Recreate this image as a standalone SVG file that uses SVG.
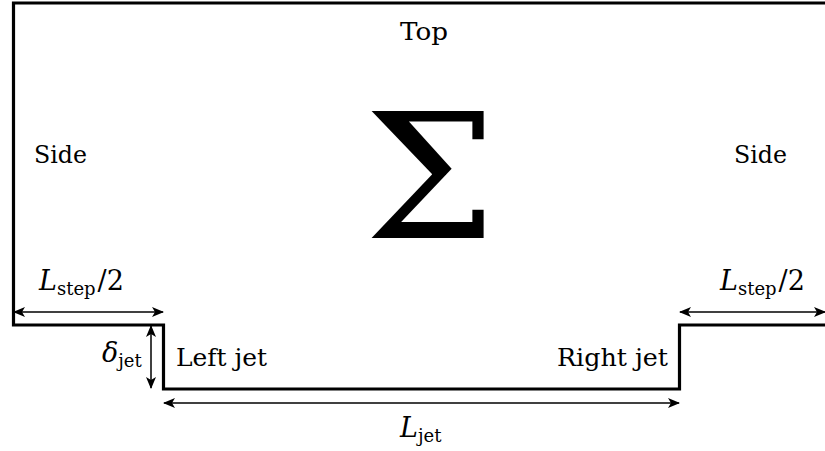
<svg xmlns="http://www.w3.org/2000/svg" width="825" height="451" viewBox="0 0 825 451">
<style>
text{font-family:'DejaVu Serif',serif;fill:#000}
.t{font-size:25px}
.mt{font-size:27px}
.m{font-style:italic}
.s{font-size:18px;font-style:normal}
.dim{stroke:#000;stroke-width:1.5;fill:none;marker-start:url(#ah);marker-end:url(#ah)}
</style>
<defs>
<marker id="ah" viewBox="0 0 12 10" refX="11" refY="5" markerWidth="12" markerHeight="10" markerUnits="userSpaceOnUse" orient="auto-start-reverse">
<path d="M0,0 L12,5 L0,10 L3,5 Z" fill="#000"/>
</marker>
</defs>
<rect width="825" height="451" fill="#fff"/>
<g id="domain">
<path d="M830,3 H13.5 V325 H163.5 V389 H679.5 V325 H830" fill="none" stroke="#000" stroke-width="3.2" stroke-linejoin="miter"/>
</g>
<g id="connectors">
<line class="dim" x1="14" y1="312" x2="163" y2="312"/>
<line class="dim" x1="680" y1="312" x2="825" y2="312"/>
<line class="dim" x1="151" y1="326" x2="151" y2="388"/>
<line class="dim" x1="164" y1="403" x2="679" y2="403"/>
</g>
<g id="top"><text class="t" x="400" y="40" textLength="48" lengthAdjust="spacingAndGlyphs">Top</text></g>
<g id="sigma"><text x="0" y="0" transform="translate(430 238) scale(1.1 1.02)" text-anchor="middle" style="font-size:170px">Σ</text></g>
<g id="side-left"><text class="t" x="34" y="163" textLength="53" lengthAdjust="spacingAndGlyphs">Side</text></g>
<g id="side-right"><text class="t" x="734" y="163" textLength="53" lengthAdjust="spacingAndGlyphs">Side</text></g>
<g id="lstep-left"><text class="mt" x="39" y="290"><tspan class="m">L</tspan><tspan class="s" dy="5">step</tspan><tspan dx="2" dy="-5">/2</tspan></text></g>
<g id="lstep-right"><text class="mt" x="720" y="290"><tspan class="m">L</tspan><tspan class="s" dy="5">step</tspan><tspan dx="2" dy="-5">/2</tspan></text></g>
<g id="delta-jet"><text class="mt" x="102" y="362"><tspan class="m">δ</tspan><tspan class="s" dy="5">jet</tspan></text></g>
<g id="left-jet"><text class="t" x="176" y="366" textLength="91" lengthAdjust="spacingAndGlyphs">Left jet</text></g>
<g id="right-jet"><text class="t" x="557" y="366" textLength="111" lengthAdjust="spacingAndGlyphs">Right jet</text></g>
<g id="ljet"><text class="mt" x="400" y="437"><tspan class="m">L</tspan><tspan class="s" dy="5">jet</tspan></text></g>
</svg>
